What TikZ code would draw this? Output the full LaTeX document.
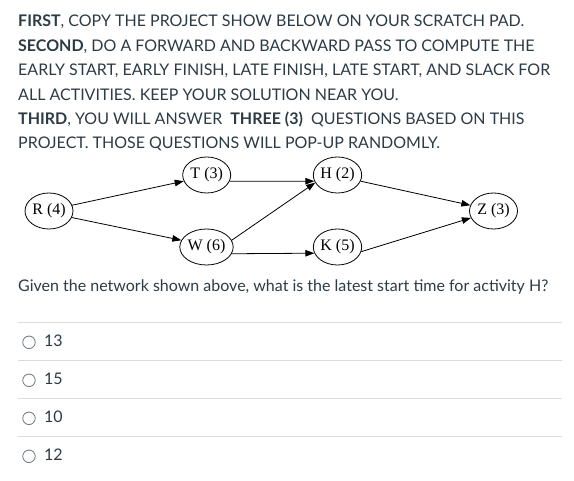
\documentclass[tikz,border=0pt]{standalone}
\usepackage{fontspec}
\setmainfont{Lato}
\newfontfamily\diagfont{Liberation Serif}
\usetikzlibrary{shapes.geometric,arrows.meta}
\definecolor{txt}{HTML}{2D3B45}
\definecolor{sep}{HTML}{D9DCDE}
\definecolor{radio}{HTML}{6B7780}
\tikzset{
  line/.style={anchor=base west, inner sep=0pt, text=txt, font=\fontsize{16}{19}\selectfont},
  act/.style={draw, ellipse, minimum width=48pt, minimum height=36pt, inner sep=0pt, line width=0.8pt, font=\diagfont\fontsize{16}{18}\selectfont},
  arr/.style={line width=0.8pt, -{Triangle[length=9pt,width=6.5pt]}},
  sepline/.style={draw=sep, line width=1.2pt},
  radiob/.style={draw=radio, circle, minimum size=12.5pt, inner sep=0pt, line width=0.8pt},
}
\begin{document}
\begin{tikzpicture}[x=1pt,y=-1pt]
\useasboundingbox[fill=white] (0,0) rectangle (574,481);
% instructions
\node[line] (l1) at (18,26.7) {\textbf{FIRST}, COPY THE PROJECT SHOW BELOW ON YOUR SCRATCH PAD.};
\node[line] (l2) at (18,51.5) {\textbf{SECOND}, DO A FORWARD AND BACKWARD PASS TO COMPUTE THE};
\node[line] (l3) at (18,75.9) {EARLY START, EARLY FINISH, LATE FINISH, LATE START, AND SLACK FOR};
\node[line] (l4) at (18,100.2) {ALL ACTIVITIES. KEEP YOUR SOLUTION NEAR YOU.};
\node[line] (l5) at (18,124.5) {\textbf{THIRD}, YOU WILL ANSWER\ \ \textbf{THREE (3)}\ \ QUESTIONS BASED ON THIS};
\node[line] (l6) at (18,148.9) {PROJECT. THOSE QUESTIONS WILL POP-UP RANDOMLY.};
% network
\node[act] (R) at (49,211) {R (4)};
\node[act] (T) at (206.7,175) {T (3)};
\node[act] (W) at (206.5,247) {W (6)};
\node[act] (H) at (337.5,175) {H (2)};
\node[act] (K) at (337.5,247) {K (5)};
\node[act] (Z) at (493.5,211) {Z (3)};
\draw[arr] (R.14) -- (T.195);
\draw[arr] (R.-16) -- (W.165);
\draw[arr] (T.-15) -- (H.195);
\draw[arr] (W.15) -- (H.199);
\draw[arr] (W.-15) -- (K.195);
\draw[arr] (H.-15) -- (Z.166);
\draw[arr] (K.-11) -- (Z.197);
% question
\node[line] (q) at (18,292) {Given the network shown above, what is the latest start time for activity H?};
\coordinate (s1a) at (18,322.5); \coordinate (s1b) at (562,322.5);
\coordinate (s2a) at (18,360.6); \coordinate (s2b) at (562,360.6);
\coordinate (s3a) at (18,398.7); \coordinate (s3b) at (562,398.7);
\coordinate (s4a) at (18,436.7); \coordinate (s4b) at (562,436.7);
\draw[sepline] (s1a) -- (s1b);
\draw[sepline] (s2a) -- (s2b);
\draw[sepline] (s3a) -- (s3b);
\draw[sepline] (s4a) -- (s4b);
\node[radiob] (r1) at (29,342.3) {};
\node[radiob] (r2) at (29,380.3) {};
\node[radiob] (r3) at (29,418.3) {};
\node[radiob] (r4) at (29,456.3) {};
\node[line] (a1) at (44,346.2) {13};
\node[line] (a2) at (44,384.2) {15};
\node[line] (a3) at (44,422.2) {10};
\node[line] (a4) at (44,460.2) {12};
\end{tikzpicture}
\end{document}
